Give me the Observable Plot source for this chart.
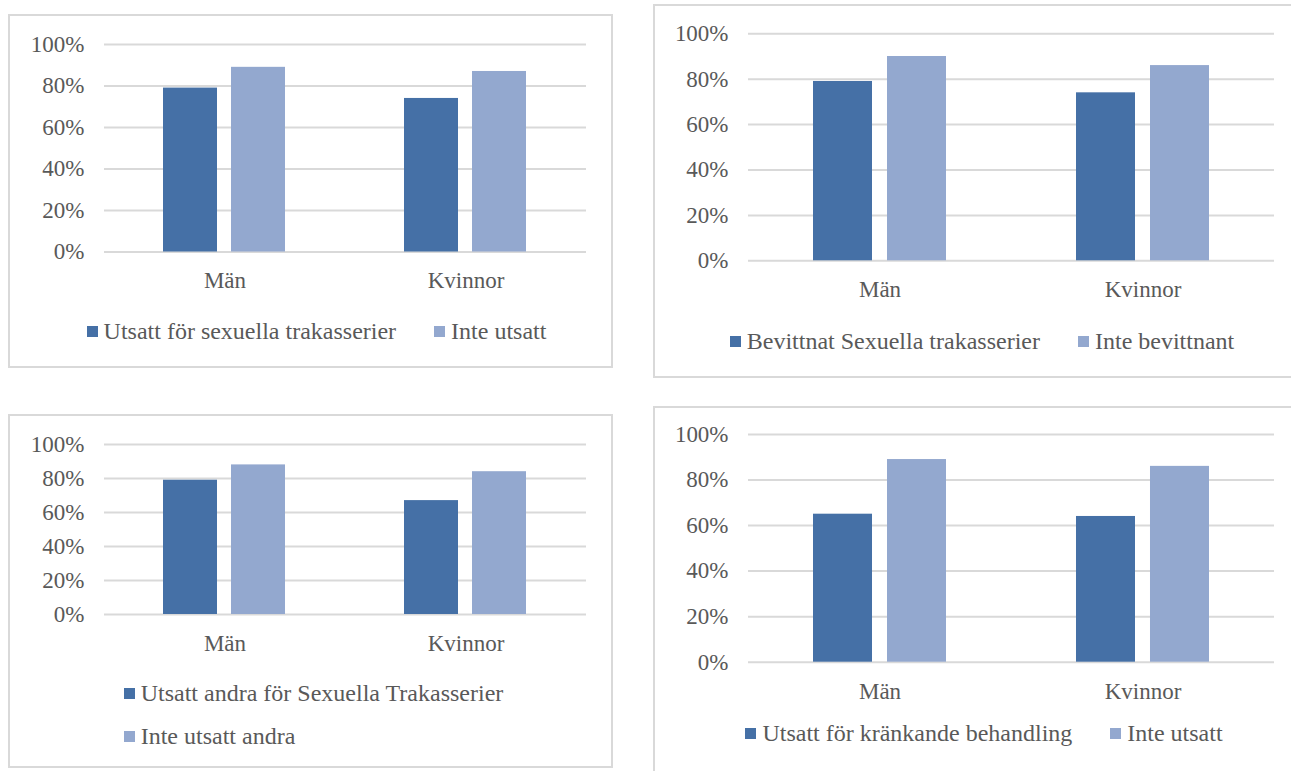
<!DOCTYPE html>
<html>
<head>
<meta charset="utf-8">
<script src="https://cdn.jsdelivr.net/npm/d3@7"></script>
<script src="https://cdn.jsdelivr.net/npm/@observablehq/plot@0.6"></script>
<style>
  html, body { margin: 0; padding: 0; background: #ffffff; }
  #root { position: relative; width: 1291px; height: 771px; overflow: hidden; background: #fff; }
  #root, #root * { font-family: 'Liberation Serif', 'Times New Roman', Times, serif; }
  .box { position: absolute; box-sizing: border-box; border: 2px solid #d9d9d9; background: #fff; }
  .plot { position: absolute; }
  .legend { position: absolute; display: flex; justify-content: center; font-size: 24px; color: #595959; }
  .legend .items { display: flex; gap: 0 38px; }
  .legend .items.col { flex-direction: column; gap: 17px 0; }
  .legend .item { display: flex; align-items: center; line-height: 26px; white-space: nowrap; }
  .legend .sw { display: inline-block; width: 11px; height: 11px; margin-right: 6px; }
</style>
</head>
<body>
<div id="root"></div>
<script>
// ---- data ----
const categories = ["Män", "Kvinnor"];
const yTicks = [0, 0.2, 0.4, 0.6, 0.8, 1];
const colors = ["#4570a6", "#93a8cf"];

const series1 = ["Utsatt för sexuella trakasserier", "Inte utsatt"];
const values1Dark = [0.79, 0.74];
const values1Light = [0.89, 0.87];

const series2 = ["Bevittnat Sexuella trakasserier", "Inte bevittnant"];
const values2Dark = [0.79, 0.74];
const values2Light = [0.90, 0.86];

const series3 = ["Utsatt andra för Sexuella Trakasserier", "Inte utsatt andra"];
const values3Dark = [0.79, 0.67];
const values3Light = [0.88, 0.84];

const series4 = ["Utsatt för kränkande behandling", "Inte utsatt"];
const values4Dark = [0.65, 0.64];
const values4Light = [0.89, 0.86];

// ---- layout ----
const fontStack = "'Liberation Serif', 'Times New Roman', Times, serif";
const panels = [
  {series: series1, dark: values1Dark, light: values1Light,
   box: {left: 8, top: 14, width: 605, height: 354},
   mt: 30, ih: 207.5, ml: 95, mr: 27, legendTop: 304, legendDx: 6, column: false},
  {series: series2, dark: values2Dark, light: values2Light,
   box: {left: 653, top: 4, width: 652, height: 374},
   mt: 29.3, ih: 227, ml: 95, mr: 31, legendTop: 324, legendDx: 3, column: false},
  {series: series3, dark: values3Dark, light: values3Light,
   box: {left: 8, top: 414, width: 605, height: 354},
   mt: 30, ih: 170, ml: 95, mr: 27, legendTop: 266, legendDx: 3, column: true},
  {series: series4, dark: values4Dark, light: values4Light,
   box: {left: 653, top: 406, width: 652, height: 380},
   mt: 28, ih: 227.7, ml: 95, mr: 31, legendTop: 314, legendDx: 5, column: false}
];

const root = document.getElementById("root");

for (const p of panels) {
  const box = document.createElement("div");
  box.className = "box";
  Object.assign(box.style, {left: p.box.left + "px", top: p.box.top + "px", width: p.box.width + "px", height: p.box.height + "px"});
  root.appendChild(box);

  const rows = [];
  categories.forEach((c, i) => {
    rows.push({cat: c, ser: p.series[0], value: p.dark[i]});
    rows.push({cat: c, ser: p.series[1], value: p.light[i]});
  });

  const mb = 52;
  const chart = Plot.plot({
    width: p.box.width,
    height: p.mt + p.ih + mb,
    marginTop: p.mt,
    marginBottom: mb,
    marginLeft: p.ml,
    marginRight: p.mr,
    style: {fontFamily: fontStack, fontSize: "23px", color: "#595959", background: "transparent", overflow: "visible"},
    fx: {domain: categories, padding: 0, label: null, tickSize: 0, tickPadding: 20, axis: "bottom"},
    x: {domain: p.series, paddingInner: 0.2, paddingOuter: 0.87, axis: null},
    y: {domain: [0, 1], ticks: yTicks, tickFormat: d3.format(".0%"), tickSize: 0, tickPadding: 20, label: null},
    color: {domain: p.series, range: colors},
    marks: [
      Plot.ruleY(yTicks, {stroke: "#d9d9d9", strokeWidth: 2}),
      Plot.barY(rows, {fx: "cat", x: "ser", y: "value", fill: "ser"})
    ]
  });
  chart.classList.add("plot");
  chart.style.left = p.box.left + "px";
  chart.style.top = p.box.top + "px";
  root.appendChild(chart);

  const leg = document.createElement("div");
  leg.className = "legend";
  Object.assign(leg.style, {left: (p.box.left + p.legendDx) + "px", width: p.box.width + "px", top: (p.box.top + p.legendTop) + "px"});
  const items = document.createElement("div");
  items.className = "items" + (p.column ? " col" : "");
  p.series.forEach((s, j) => {
    const it = document.createElement("div");
    it.className = "item";
    const sw = document.createElement("span");
    sw.className = "sw";
    sw.style.background = colors[j];
    it.appendChild(sw);
    it.appendChild(document.createTextNode(s));
    items.appendChild(it);
  });
  leg.appendChild(items);
  root.appendChild(leg);
}
</script>
</body>
</html>
